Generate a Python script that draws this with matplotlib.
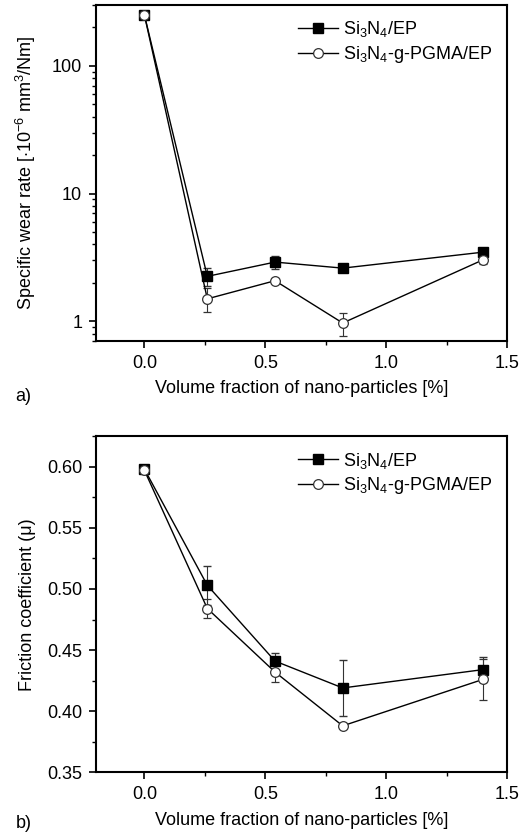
import numpy as np
import matplotlib
matplotlib.use("Agg")
import matplotlib.pyplot as plt
from matplotlib.ticker import MultipleLocator, FixedLocator, NullFormatter

plt.rcParams['font.family'] = ['Liberation Sans', 'DejaVu Sans']
plt.rcParams['mathtext.fontset'] = 'custom'
plt.rcParams['mathtext.rm'] = 'Liberation Sans'

# volume fraction of nano-particles [%]
vol = [0.0, 0.26, 0.54, 0.82, 1.40]

# specific wear rate [1e-6 mm3/Nm]
wear_ep = [250, 2.25, 2.91, 2.61, 3.48]
wear_ep_err = [12, 0.35, 0.35, 0.1, 0.15]
wear_pg = [250, 1.50, 2.08, 0.97, 3.03]
wear_pg_err = [12, 0.32, 0.1, 0.2, 0.2]

# friction coefficient
fric_ep = [0.598, 0.503, 0.441, 0.419, 0.434]
fric_ep_err = [0.002, 0.016, 0.007, 0.023, 0.010]
fric_pg = [0.597, 0.484, 0.432, 0.388, 0.426]
fric_pg_err = [0.002, 0.0075, 0.008, 0.002, 0.017]

lab_ep = r'Si$_3$N$_4$/EP'
lab_pg = r'Si$_3$N$_4$-g-PGMA/EP'

fig = plt.figure(figsize=(5.25, 8.34), dpi=100)
ax1 = fig.add_axes([0.183, 0.591, 0.783, 0.403])
ax2 = fig.add_axes([0.183, 0.074, 0.783, 0.403])


def draw(ax, y1, e1, y2, e2):
    ax.errorbar(vol, y1, yerr=e1, color='black', marker='s', ms=7, mfc='black',
                mec='black', lw=1.0, elinewidth=0.8, ecolor='#333333', capsize=3,
                label=lab_ep, zorder=3)
    ax.errorbar(vol, y2, yerr=e2, color='black', marker='o', ms=7, mfc='white',
                mec='#333333', mew=0.9, lw=1.0, elinewidth=0.8, ecolor='#333333',
                capsize=3, label=lab_pg, zorder=3)
    ax.set_xlim(-0.2, 1.5)
    ax.xaxis.set_major_locator(MultipleLocator(0.5))
    ax.xaxis.set_minor_locator(MultipleLocator(0.25))
    ax.set_xlabel('Volume fraction of nano-particles [%]', fontsize=13, labelpad=6)
    for s in ax.spines.values():
        s.set_linewidth(1.5)
    ax.tick_params(which='major', direction='out', length=5, width=1.2,
                   labelsize=13, pad=5)
    ax.tick_params(which='minor', direction='out', length=3, width=1.0)
    handles, labels = ax.get_legend_handles_labels()
    handles = [h[0] for h in handles]
    ax.legend(handles, labels, loc='upper right', frameon=False, fontsize=13,
              handlelength=2.2, handletextpad=0.3, labelspacing=0.25,
              borderaxespad=0.4)


draw(ax1, wear_ep, wear_ep_err, wear_pg, wear_pg_err)
ax1.set_yscale('log')
ax1.set_ylim(0.7, 300)
ax1.yaxis.set_major_locator(FixedLocator([1, 10, 100]))
ax1.set_yticklabels(['1', '10', '100'])
ax1.yaxis.set_minor_formatter(NullFormatter())
ax1.set_ylabel(r'Specific wear rate [$\cdot$10$^{-6}$ mm$^3$/Nm]', fontsize=13,
               labelpad=10)

draw(ax2, fric_ep, fric_ep_err, fric_pg, fric_pg_err)
ax2.set_ylim(0.35, 0.625)
ax2.yaxis.set_major_locator(MultipleLocator(0.05))
ax2.yaxis.set_minor_locator(MultipleLocator(0.025))
ax2.yaxis.set_major_formatter(matplotlib.ticker.FormatStrFormatter('%.2f'))
ax2.set_ylabel('Friction coefficient (\u03bc)', fontsize=13, labelpad=8)

fig.text(0.03, 0.524, 'a)', fontsize=13, va='center')
fig.text(0.03, 0.013, 'b)', fontsize=13, va='center')

fig.savefig('out.png', dpi=100)
